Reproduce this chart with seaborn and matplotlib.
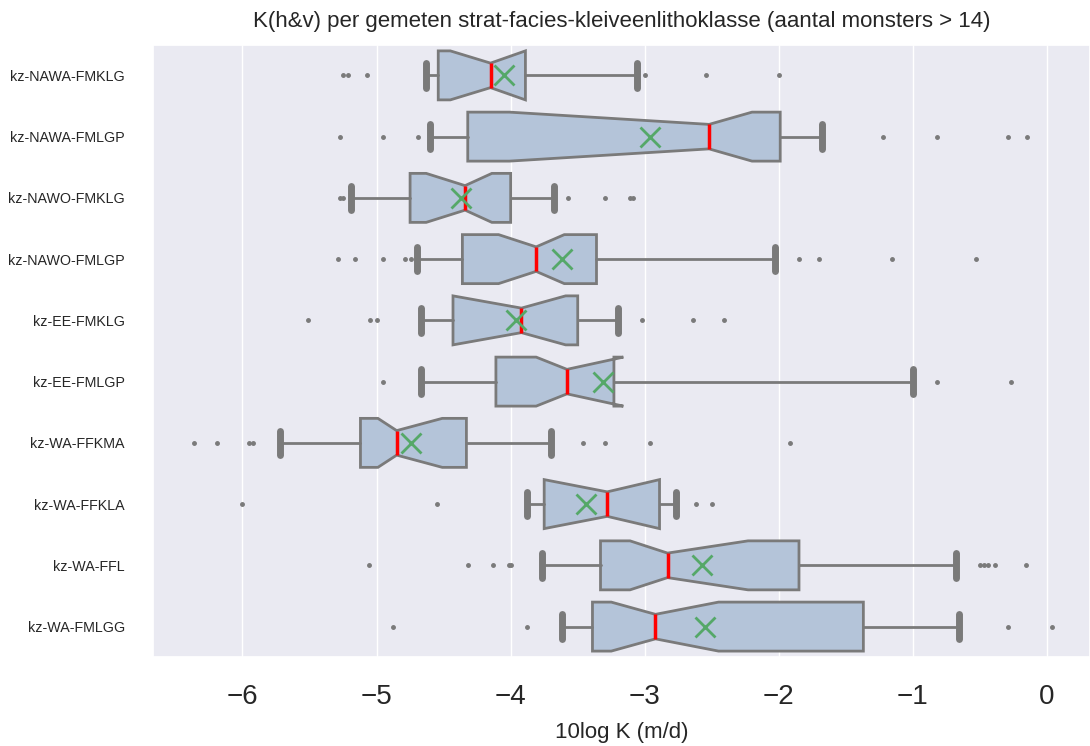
import matplotlib
matplotlib.use("Agg")
import matplotlib.pyplot as plt
import seaborn as sns

# Klassen (van boven naar onder)
klassen = ["kz-NAWA-FMKLG", "kz-NAWA-FMLGP", "kz-NAWO-FMKLG", "kz-NAWO-FMLGP",
           "kz-EE-FMKLG", "kz-EE-FMLGP", "kz-WA-FFKMA", "kz-WA-FFKLA",
           "kz-WA-FFL", "kz-WA-FMLGG"]

whis_laag = [-4.63, -4.60, -5.19, -4.70, -4.67, -4.67, -5.72, -3.88, -3.77, -3.62]
q1 = [-4.54, -4.32, -4.75, -4.36, -4.43, -4.11, -5.12, -3.75, -3.33, -3.39]
ci_laag = [-4.45, -4.01, -4.63, -4.09, -4.43, -3.81, -4.99, -3.75, -3.11, -3.25]
mediaan = [-4.15, -2.52, -4.34, -3.81, -3.92, -3.58, -4.85, -3.28, -2.83, -2.92]
ci_hoog = [-3.89, -2.20, -4.14, -3.60, -3.59, -3.16, -4.51, -2.89, -2.23, -2.45]
q3 = [-3.89, -1.99, -4.00, -3.36, -3.50, -3.23, -4.33, -2.89, -1.85, -1.37]
whis_hoog = [-3.06, -1.68, -3.68, -2.03, -3.20, -1.00, -3.70, -2.77, -0.68, -0.66]
gemiddelde = [-4.05, -2.96, -4.37, -3.62, -3.96, -3.31, -4.74, -3.44, -2.57, -2.55]
uitschieters = [
    [-5.25, -5.21, -5.07, -3.00, -2.54, -2.00],
    [-5.27, -4.95, -4.69, -1.22, -0.82, -0.29, -0.15],
    [-5.27, -5.25, -3.57, -3.30, -3.11, -3.09],
    [-5.29, -5.16, -4.95, -4.79, -4.74, -1.85, -1.70, -1.16, -0.53],
    [-5.51, -5.05, -5.00, -3.02, -2.64, -2.41],
    [-4.95, -0.82, -0.27],
    [-6.36, -6.19, -5.95, -5.92, -3.46, -3.30, -2.96, -1.92],
    [-6.00, -4.55, -2.62, -2.50],
    [-5.06, -4.32, -4.13, -4.01, -4.00, -0.50, -0.47, -0.44, -0.39, -0.16],
    [-4.88, -3.88, -0.29, 0.035],
]

stats = []
for i, k in enumerate(klassen):
    stats.append(dict(label=k, whislo=whis_laag[i], q1=q1[i], med=mediaan[i],
                      q3=q3[i], whishi=whis_hoog[i], cilo=ci_laag[i],
                      cihi=ci_hoog[i], mean=gemiddelde[i], fliers=uitschieters[i]))

sns.set_theme(style="darkgrid")
plt.rcParams["font.family"] = ["Liberation Sans", "DejaVu Sans"]

fig, ax = plt.subplots(figsize=(10.9, 7.46), dpi=100)
fig.subplots_adjust(left=0.140, right=1.0, top=0.940, bottom=0.119)

grijs = "#7a7a7a"
ax.bxp(stats, positions=range(len(klassen)), orientation="horizontal",
       widths=0.8, patch_artist=True, shownotches=True, showmeans=True,
       boxprops=dict(facecolor="#b4c4d9", edgecolor=grijs, linewidth=2),
       whiskerprops=dict(color=grijs, linewidth=2),
       capprops=dict(color=grijs, linewidth=5, solid_capstyle="round"),
       medianprops=dict(color="red", linewidth=2.5),
       meanprops=dict(marker="x", markeredgecolor="#55a868", markersize=14,
                      markeredgewidth=2),
       flierprops=dict(marker="o", markerfacecolor=grijs, markeredgecolor=grijs,
                       markersize=2.5))

ax.set_ylim(9.5, -0.5)
ax.set_xlim(-6.67, 0.32)
ax.grid(axis="y", visible=False)
ax.set_xticks([-6, -5, -4, -3, -2, -1, 0])
ax.tick_params(axis="x", labelsize=20, pad=13)
ax.tick_params(axis="y", labelsize=10.3, pad=14)
ax.set_xlabel("10log K (m/d)", fontsize=16, labelpad=9)
ax.set_title("K(h&v) per gemeten strat-facies-kleiveenlithoklasse (aantal monsters > 14)",
             fontsize=16, pad=13)

plt.savefig("out.png", dpi=100)
